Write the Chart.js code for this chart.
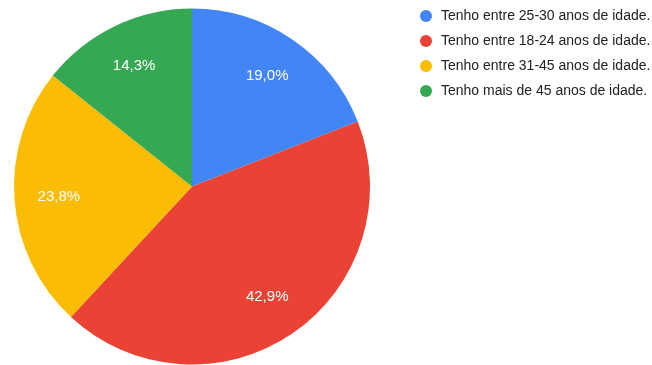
<!DOCTYPE html>
<html>
<head>
<meta charset="utf-8">
<script src="https://cdn.jsdelivr.net/npm/chart.js@4"></script>
<style>
  html, body { margin: 0; padding: 0; background: #fff; }
  #wrap { width: 652px; height: 365px; position: relative; }
</style>
</head>
<body>
<div id="wrap"><canvas id="chart" width="652" height="365"></canvas></div>
<script>
// Data (4/21, 9/21, 5/21, 3/21 responses)
const labels = [
  'Tenho entre 25-30 anos de idade.',
  'Tenho entre 18-24 anos de idade.',
  'Tenho entre 31-45 anos de idade.',
  'Tenho mais de 45 anos de idade.'
];
const values = [4, 9, 5, 3];
const percentLabels = ['19,0%', '42,9%', '23,8%', '14,3%'];
const colors = ['#4285F4', '#EA4335', '#FBBC04', '#34A853'];

const fontFamily = '"Liberation Sans", Arial, sans-serif';

// Percentage labels inside the slices
const sliceLabels = {
  id: 'sliceLabels',
  afterDatasetsDraw(chart) {
    const ctx = chart.ctx;
    const arcs = chart.getDatasetMeta(0).data;
    ctx.save();
    ctx.fillStyle = '#ffffff';
    ctx.font = '15px ' + fontFamily;
    ctx.textAlign = 'center';
    ctx.textBaseline = 'middle';
    arcs.forEach((arc, i) => {
      const p = arc.getProps(['x', 'y', 'startAngle', 'endAngle', 'outerRadius'], true);
      const mid = (p.startAngle + p.endAngle) / 2;
      const r = p.outerRadius * 0.75;
      ctx.fillText(percentLabels[i], p.x + Math.cos(mid) * r, p.y + Math.sin(mid) * r);
    });
    ctx.restore();
  }
};

// Legend on the right, drawn by hand so the pie keeps its place
const sideLegend = {
  id: 'sideLegend',
  afterDraw(chart) {
    const ctx = chart.ctx;
    ctx.save();
    ctx.font = '14px ' + fontFamily;
    ctx.textBaseline = 'middle';
    ctx.textAlign = 'left';
    labels.forEach((label, i) => {
      const y = 16 + i * 25;
      ctx.fillStyle = colors[i];
      ctx.beginPath();
      ctx.arc(426, y, 6, 0, Math.PI * 2);
      ctx.fill();
      ctx.fillStyle = '#222222';
      ctx.fillText(label, 441, y);
    });
    ctx.restore();
  }
};

new Chart(document.getElementById('chart'), {
  type: 'pie',
  data: {
    labels: labels,
    datasets: [{
      data: values,
      backgroundColor: colors,
      borderWidth: 0
    }]
  },
  options: {
    responsive: false,
    animation: false,
    layout: {
      padding: { left: 14, right: 282, top: 8, bottom: 0 }
    },
    plugins: {
      legend: { display: false },
      tooltip: { enabled: false }
    }
  },
  plugins: [sliceLabels, sideLegend]
});
</script>
</body>
</html>
